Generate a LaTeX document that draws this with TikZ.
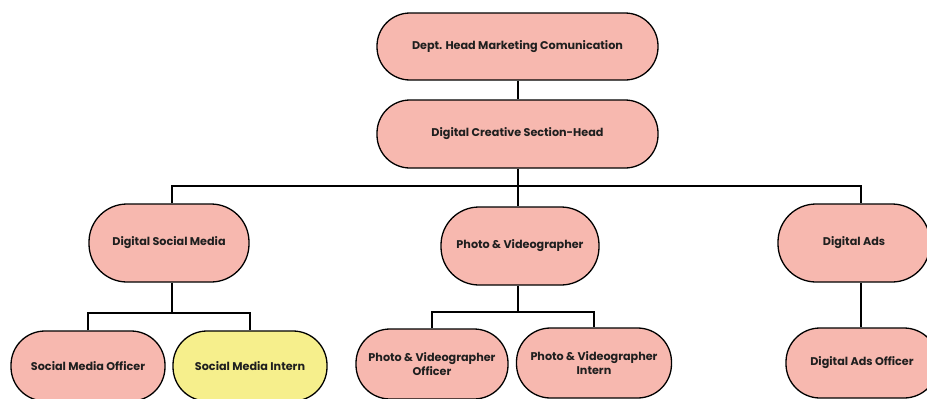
\documentclass[tikz,border=0pt]{standalone}
\usepackage{fontspec}
\setmainfont{Poppins}[BoldFont={Poppins Bold}]
\definecolor{pinkfill}{HTML}{F7B8AF}
\definecolor{yellowfill}{HTML}{F6EF8C}
\begin{document}
\begin{tikzpicture}[x=1pt,y=-1pt,
  box/.style={draw=black, line width=1.3pt, fill=pinkfill, align=center,
    font=\fontsize{11.2}{13.8}\selectfont\bfseries, inner sep=0pt, text=black!88},
  bigbox/.style={box, minimum width=281pt, minimum height=67pt, rounded corners=33pt},
  midbox/.style={box, minimum width=158pt, minimum height=78pt, rounded corners=38pt},
  lowbox/.style={box, minimum width=154pt, minimum height=70pt, rounded corners=34pt},
  link/.style={draw=black, line width=1.8pt}]
\useasboundingbox (0,0) rectangle (927,399);
\clip (0,0) rectangle (927,399);
\node[bigbox] (top) at (517.5,46.5) {Dept. Head Marketing Comunication};
\node[bigbox, minimum height=68pt] (dch) at (517.5,134) {Digital Creative Section-Head};
\node[midbox, minimum width=160pt] (dsm) at (169,243) {Digital Social Media};
\node[midbox] (pv) at (520,246) {Photo \& Videographer};
\node[midbox, minimum width=152pt] (da) at (854,243) {Digital Ads};
\node[lowbox] (smo) at (88,366) {Social Media Officer};
\node[lowbox, fill=yellowfill] (smi) at (250,366) {Social Media Intern};
\node[lowbox, minimum width=152pt] (pvo) at (432,364) {Photo \& Videographer\\Officer};
\node[lowbox, minimum width=155pt] (pvi) at (594,363) {Photo \& Videographer\\Intern};
\node[lowbox, minimum width=152pt] (dao) at (862,363) {Digital Ads Officer};
\coordinate (bus) at (518,186);
\coordinate (dsmx) at (172,243);
\coordinate (dax) at (861,243);
\coordinate (busl) at (172,313);
\coordinate (busm) at (518,312);
\draw[link] (bus |- top.south) -- (bus |- dch.north);
\draw[link] (bus |- dch.south) -- (bus);
\draw[link] (dsmx |- dsm.north) |- (bus) -| (dax |- da.north);
\draw[link] (bus) -- (bus |- pv.north);
\draw[link] (dsmx |- dsm.south) -- (busl);
\draw[link] (smo.north) |- (busl) -| (smi.north);
\draw[link] (busm |- pv.south) -- (busm);
\draw[link] (pvo.north) |- (busm) -| (pvi.north);
\draw[link] (dax |- da.south) -- (dax |- dao.north);
\end{tikzpicture}
\end{document}
